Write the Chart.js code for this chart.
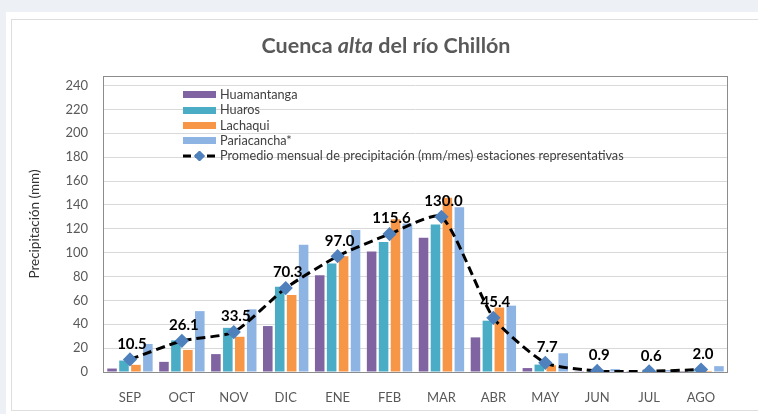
<!DOCTYPE html>
<html>
<head>
<meta charset="utf-8">
<script src="https://cdn.jsdelivr.net/npm/chart.js@4.4.1/dist/chart.umd.min.js"></script>
<style>
  body { margin: 0; background: #edf1f6; font-family: Lato, "Open Sans", sans-serif; }
  #wrap { position: relative; width: 758px; height: 414px; overflow: hidden; }
  #panel { position: absolute; left: 6px; top: 12px; width: 760px; height: 410px; background: #fff; }
  #inner { position: absolute; left: 11px; top: 19px; width: 760px; height: 392px; border: 1px solid #dedede; box-sizing: border-box; }
  #myChart { position: absolute; left: 0; top: 0; }
  #titulo { position: absolute; top: 32px; left: 7px; width: 758px; text-align: center;
            font-size: 21.5px; font-weight: bold; color: #595959; }
  #leyenda { position: absolute; left: 183px; top: 87px; font-size: 12.7px; color: #404040; }
  #leyenda div { height: 15.3px; line-height: 15.3px; white-space: nowrap; }
  #leyenda .sw { display: inline-block; width: 33px; height: 7px; margin-right: 4px; vertical-align: middle; position: relative; top: -1px; }
  #leyenda svg { vertical-align: middle; margin-right: 4px; position: relative; top: -1px; }
</style>
</head>
<body>
<div id="wrap">
  <div id="panel"></div>
  <div id="inner"></div>
  <canvas id="myChart" width="758" height="414"></canvas>
  <div id="titulo">Cuenca <i>alta</i> del río Chillón</div>
  <div id="leyenda"></div>
</div>
<script>
// Data (mm)
var meses = ['SEP', 'OCT', 'NOV', 'DIC', 'ENE', 'FEB', 'MAR', 'ABR', 'MAY', 'JUN', 'JUL', 'AGO'];
var huamantanga = [2.9, 8.5, 15, 38.5, 81, 101, 112.5, 29, 3.3, 0.2, 0.1, 0.8];
var huaros      = [9.6, 26.5, 37, 71.5, 91, 109, 123.5, 43, 6.2, 0.6, 0.4, 1.4];
var lachaqui    = [6, 18.5, 29.5, 64.5, 97, 128, 146, 54, 5.6, 0.4, 0.2, 0.9];
var pariacancha = [23.5, 51, 52.5, 106.7, 119, 124.4, 138, 55.6, 15.7, 2.4, 1.7, 4.9];
var promedio    = [10.5, 26.1, 33.5, 70.3, 97.0, 115.6, 130.0, 45.4, 7.7, 0.9, 0.6, 2.0];
var yTicks = [0, 20, 40, 60, 80, 100, 120, 140, 160, 180, 200, 220, 240];

var series = [
    { label: 'Huamantanga', data: huamantanga, color: '#8064a2' },
    { label: 'Huaros', data: huaros, color: '#4bacc6' },
    { label: 'Lachaqui', data: lachaqui, color: '#f79646' },
    { label: 'Pariacancha*', data: pariacancha, color: '#8eb4e3' }
];
var lineLabel = 'Promedio mensual de precipitación (mm/mes) estaciones representativas';

var tickFont = { family: 'Lato', size: 13 };

// frame around the plot area
var framePlugin = {
    id: 'frame',
    beforeDatasetsDraw: function(chart) {
        var a = chart.chartArea, c = chart.ctx;
        c.save();
        c.strokeStyle = '#8c8c8c';
        c.lineWidth = 1;
        c.strokeRect(Math.round(a.left) - 0.5, Math.round(a.top) + 0.5, Math.round(a.right - a.left) + 1, Math.round(a.bottom - a.top));
        c.restore();
    }
};

// values above the average line
var labelPlugin = {
    id: 'lineLabels',
    afterDatasetsDraw: function(chart) {
        var c = chart.ctx;
        var meta = chart.getDatasetMeta(4);
        c.save();
        c.font = 'bold 15px Lato';
        c.fillStyle = '#000';
        c.textAlign = 'center';
        c.textBaseline = 'bottom';
        meta.data.forEach(function(p, i) {
            c.fillText(promedio[i].toFixed(1), p.x + 2, p.y - 8);
        });
        c.restore();
    }
};

var datasets = series.map(function(s) {
    return {
        type: 'bar',
        label: s.label,
        data: s.data,
        backgroundColor: s.color,
        barPercentage: 0.8,
        categoryPercentage: 0.92,
        order: 1
    };
});
datasets.push({
    type: 'line',
    label: lineLabel,
    data: promedio,
    borderColor: '#000',
    borderWidth: 3,
    borderDash: [9, 5],
    tension: 0.2,
    pointStyle: 'rectRot',
    pointRadius: 5,
    pointBackgroundColor: '#4f81bd',
    pointBorderColor: '#4f81bd',
    order: 0
});

var ctx = document.getElementById('myChart').getContext('2d');
var myChart = new Chart(ctx, {
    data: { labels: meses, datasets: datasets },
    plugins: [framePlugin, labelPlugin],
    options: {
        responsive: false,
        animation: false,
        layout: { padding: { left: 0, top: 76, right: 31, bottom: 0 } },
        scales: {
            x: {
                grid: { display: false },
                border: { display: false },
                ticks: { color: '#595959', font: tickFont, padding: 10 },
                afterFit: function(s) { s.height = 42; }
            },
            y: {
                min: 0,
                max: 248,
                afterBuildTicks: function(s) {
                    s.ticks = yTicks.map(function(v) { return { value: v }; });
                },
                grid: { color: '#d9d9d9', drawTicks: false },
                border: { display: false },
                ticks: { color: '#595959', font: tickFont, padding: 16 },
                title: {
                    display: true,
                    text: 'Precipitación (mm)',
                    color: '#333',
                    font: { family: 'Lato', size: 13.5 },
                    padding: { top: 27, bottom: 0 }
                },
                afterFit: function(s) { s.width = 104; }
            }
        },
        plugins: {
            legend: { display: false },
            tooltip: { enabled: false }
        }
    }
});

// Legend inside the plot
var leg = document.getElementById('leyenda');
series.forEach(function(s) {
    var d = document.createElement('div');
    d.innerHTML = '<span class="sw" style="background:' + s.color + '"></span>' + s.label;
    leg.appendChild(d);
});
var dl = document.createElement('div');
dl.innerHTML = '<svg width="33" height="10"><line x1="0" y1="5" x2="33" y2="5" stroke="#000" stroke-width="3" stroke-dasharray="8,4"/>' +
    '<rect x="12.5" y="1" width="8" height="8" fill="#4f81bd" transform="rotate(45 16.5 5)"/></svg>' + lineLabel;
leg.appendChild(dl);
</script>
</body>
</html>
